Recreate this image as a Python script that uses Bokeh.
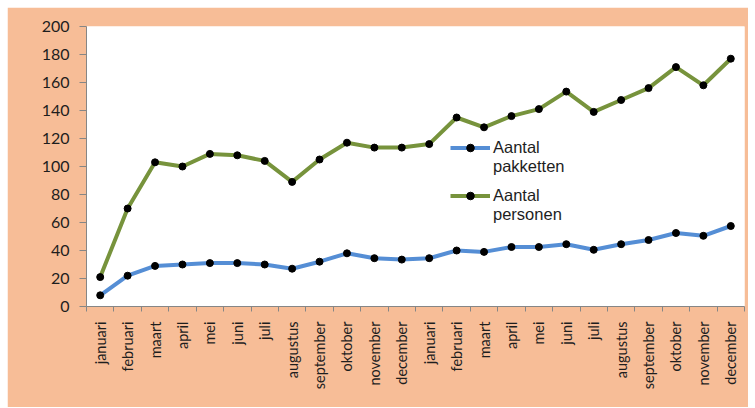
from math import pi
from bokeh.plotting import figure
from bokeh.models import Range1d, FixedTicker, Legend, LegendItem
from bokeh.embed import file_html
from bokeh.resources import INLINE

months = ["januari", "februari", "maart", "april", "mei", "juni", "juli", "augustus",
          "september", "oktober", "november", "december"] * 2
pakketten = [8, 22, 29, 30, 31, 31, 30, 27, 32, 38, 34.5, 33.5,
             34.5, 40, 39, 42.5, 42.5, 44.5, 40.5, 44.5, 47.5, 52.5, 50.5, 57.5]
personen = [21, 70, 103, 100, 109, 108, 104, 89, 105, 117, 113.5, 113.5,
            116, 135, 128, 136, 141, 153.5, 139, 147.5, 156, 171, 158, 177]
y_ticks = [0, 20, 40, 60, 80, 100, 120, 140, 160, 180, 200]

n = len(months)
xs = [i + 0.5 for i in range(n)]

PEACH = "#F7BD97"
BLUE = "#558ED5"
GREEN = "#77933C"
AXIS = "#868686"
TXT = "#1e1e1e"

p = figure(width=741, height=400, output_backend="svg", toolbar_location=None,
           x_range=Range1d(0, n), y_range=Range1d(0, 200),
           min_border_left=79, min_border_right=4, min_border_top=19, min_border_bottom=101)
p.margin = (7, 0, 0, 7)
p.border_fill_color = PEACH
p.background_fill_color = "white"
p.outline_line_color = None
p.grid.visible = False

l1 = p.line(xs, pakketten, line_color=BLUE, line_width=4)
s1 = p.scatter(xs, pakketten, size=7, fill_color="black", line_color="black")
l2 = p.line(xs, personen, line_color=GREEN, line_width=4)
s2 = p.scatter(xs, personen, size=7, fill_color="black", line_color="black")
blank = p.line(x=[], y=[], line_alpha=0)

xa = p.xaxis[0]
xa.ticker = FixedTicker(ticks=xs, minor_ticks=list(range(n + 1)))
xa.major_label_overrides = {x: m for x, m in zip(xs, months)}
xa.major_label_orientation = pi / 2
xa.major_tick_line_color = None
xa.minor_tick_line_color = AXIS
xa.minor_tick_out = 5
xa.minor_tick_in = 0
xa.axis_line_color = AXIS
xa.major_label_standoff = 9
xa.major_label_text_font = "Lato"
xa.major_label_text_font_size = "14.5px"
xa.major_label_text_color = TXT

ya = p.yaxis[0]
ya.ticker = FixedTicker(ticks=y_ticks)
ya.axis_line_color = AXIS
ya.major_tick_line_color = AXIS
ya.major_tick_out = 7
ya.major_tick_in = 0
ya.minor_tick_line_color = None
ya.major_label_standoff = 10
ya.major_label_text_font = "Lato"
ya.major_label_text_font_size = "16px"
ya.major_label_text_color = TXT


def make_legend(first, second, renderers, loc):
    return Legend(items=[LegendItem(label=first, renderers=renderers),
                         LegendItem(label=second, renderers=[blank])],
                  location=loc, border_line_color=None, background_fill_alpha=0,
                  glyph_width=40, glyph_height=19, label_height=19, label_standoff=3,
                  padding=0, margin=0, spacing=0,
                  label_text_font="Liberation Sans", label_text_font_size="16.5px",
                  label_text_color=TXT)


p.add_layout(make_legend("Aantal", "pakketten", [l1, s1], (364, 130)))
p.add_layout(make_legend("Aantal", "personen", [l2, s2], (364, 82)))

open("out.html", "w").write(file_html(p, INLINE))
